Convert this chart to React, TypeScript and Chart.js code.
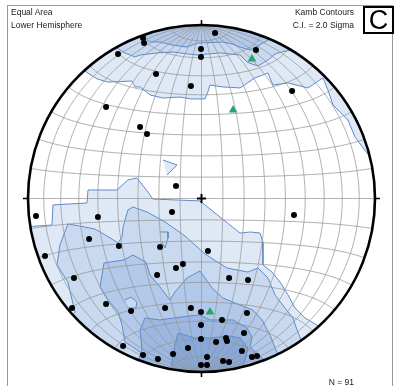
import React, { useEffect, useRef } from 'react';
import { Chart, registerables } from 'chart.js';

Chart.register(...registerables);

// ---- data (net coordinates, unit = primitive circle radius) ----
const poleDots: number[][] = [
  [-0.337, 0.925], [-0.331, 0.896], [-0.481, 0.833], [0.078, 0.954], [-0.003, 0.862],
  [-0.003, 0.816], [0.314, 0.856], [-0.262, 0.718], [-0.061, 0.648], [0.522, 0.62],
  [-0.55, 0.527], [-0.354, 0.412], [-0.314, 0.372], [-0.147, 0.072], [-0.954, -0.101],
  [-0.597, -0.107], [-0.17, -0.078], [0.533, -0.095], [-0.648, -0.233], [-0.476, -0.274],
  [-0.239, -0.28], [0.037, -0.303], [-0.902, -0.331], [-0.107, -0.378], [-0.147, -0.401],
  [-0.256, -0.441], [-0.735, -0.458], [0.159, -0.458], [0.268, -0.47], [-0.746, -0.631],
  [-0.55, -0.608], [-0.406, -0.648], [-0.21, -0.631], [-0.061, -0.631], [-0.003, -0.654],
  [0.262, -0.66], [0.118, -0.7], [-0.003, -0.729], [0.245, -0.775], [-0.003, -0.81],
  [0.141, -0.804], [0.147, -0.821], [0.084, -0.827], [-0.078, -0.862], [-0.452, -0.85],
  [-0.337, -0.902], [-0.251, -0.925], [-0.164, -0.896], [0.032, -0.914], [0.233, -0.879],
  [0.124, -0.937], [0.159, -0.942], [0.291, -0.914], [0.32, -0.908], [-0.003, -0.96],
  [0.032, -0.96],
];
const triangles: number[][] = [[0.291, 0.804], [0.182, 0.51], [0.049, -0.654]];

const topLevel1: number[][] = [
  [-0.7, 0.752], [-0.602, 0.689], [-0.539, 0.671], [-0.401, 0.677], [-0.383, 0.643],
  [-0.354, 0.643], [-0.297, 0.597], [-0.222, 0.579], [-0.124, 0.585], [-0.066, 0.574],
  [0.02, 0.574], [0.037, 0.614], [0.049, 0.654], [0.124, 0.643], [0.222, 0.637],
  [0.308, 0.695], [0.383, 0.723], [0.412, 0.654], [0.499, 0.666], [0.614, 0.637],
  [0.7, 0.695], [0.729, 0.625], [0.758, 0.539], [0.844, 0.452], [0.885, 0.354],
  [0.954, 0.262], [1.017, 0.193], [1.2, 0.2], [1.2, 1.2], [-1.2, 1.2], [-1.2, 0.75],
];
const topLevel2: number[][] = [
  [-0.585, 0.885], [-0.487, 0.867], [-0.441, 0.839], [-0.383, 0.816], [-0.354, 0.827],
  [-0.256, 0.839], [-0.164, 0.844], [-0.026, 0.827], [0.107, 0.839], [0.222, 0.827],
  [0.262, 0.787], [0.291, 0.775], [0.326, 0.764], [0.354, 0.781], [0.383, 0.798],
  [0.424, 0.833], [0.481, 0.85], [0.545, 0.856], [0.7, 1.2], [-1.2, 1.2], [-1.2, 0.885],
];
const topLevel3: number[][] = [
  [-0.366, 0.954], [-0.297, 0.902], [-0.239, 0.902], [-0.17, 0.885], [-0.084, 0.873],
  [-0.02, 0.896], [0.124, 0.902], [0.176, 0.891], [0.222, 0.873], [0.28, 0.856],
  [0.366, 0.902], [0.452, 0.96], [0.6, 1.2], [-0.5, 1.2],
];
const bottomLevel1: number[][] = [
  [-1.035, -0.164], [-0.862, -0.153], [-0.856, -0.037], [-0.66, -0.026], [-0.654, 0.049],
  [-0.487, 0.049], [-0.424, 0.107], [-0.372, 0.118], [-0.308, 0.037], [-0.28, -0.003],
  [-0.009, -0.014], [0.107, -0.107], [0.164, -0.153], [0.222, -0.199], [0.28, -0.193],
  [0.337, -0.199], [0.354, -0.251], [0.354, -0.383], [0.406, -0.424], [0.452, -0.481],
  [0.499, -0.556], [0.539, -0.631], [0.597, -0.689], [0.712, -0.758], [1.2, -1.2],
  [-1.2, -1.2], [-1.2, -0.164],
];
const islandLevel1: number[][] = [[-0.222, 0.222], [-0.141, 0.193], [-0.199, 0.135]];
const bottomLevel2: number[][] = [
  [-0.787, -0.746], [-0.729, -0.654], [-0.746, -0.585], [-0.77, -0.481], [-0.833, -0.383],
  [-0.816, -0.268], [-0.77, -0.147], [-0.7, -0.159], [-0.614, -0.176], [-0.545, -0.216],
  [-0.481, -0.256], [-0.458, -0.222], [-0.452, -0.164], [-0.424, -0.066], [-0.395, -0.049],
  [-0.314, -0.078], [-0.21, -0.135], [-0.095, -0.216], [0.02, -0.32], [0.147, -0.401],
  [0.268, -0.424], [0.326, -0.401], [0.383, -0.458], [0.424, -0.556], [0.481, -0.631],
  [0.527, -0.689], [0.551, -0.758], [0.597, -0.873], [1.2, -1.2], [-1.2, -1.2], [-1.2, -0.746],
];
const islandLevel2: number[][] = [
  [-0.239, -0.193], [-0.193, -0.193], [-0.193, -0.228], [-0.21, -0.285], [-0.228, -0.251],
];
const bottomLevel3: number[][] = [
  [-0.297, -0.988], [-0.354, -0.885], [-0.441, -0.827], [-0.458, -0.729], [-0.481, -0.654],
  [-0.539, -0.585], [-0.585, -0.51], [-0.562, -0.372], [-0.447, -0.354], [-0.395, -0.326],
  [-0.32, -0.366], [-0.297, -0.441], [-0.239, -0.51], [-0.182, -0.585], [-0.153, -0.539],
  [-0.084, -0.458], [-0.009, -0.418], [0.061, -0.516], [0.124, -0.574], [0.222, -0.614],
  [0.297, -0.643], [0.349, -0.7], [0.395, -0.787], [0.429, -0.873], [0.464, -0.942],
  [0.6, -1.2], [-0.4, -1.2],
];
const holeLevel2: number[][] = [
  [-0.441, -0.585], [-0.406, -0.568], [-0.372, -0.597], [-0.378, -0.631], [-0.424, -0.631],
];
const bottomLevel4: number[][] = [
  [-0.383, -0.977], [-0.343, -0.873], [-0.354, -0.758], [-0.326, -0.689], [-0.239, -0.7],
  [-0.164, -0.689], [-0.066, -0.677], [-0.009, -0.671], [0.049, -0.7], [0.182, -0.7],
  [0.262, -0.746], [0.291, -0.798], [0.28, -0.856], [0.349, -0.919], [0.383, -0.977],
  [0.5, -1.2], [-0.5, -1.2],
];
const bottomLevel5: number[][] = [
  [-0.182, -1.017], [-0.153, -0.844], [-0.135, -0.775], [-0.037, -0.804], [0.049, -0.804],
  [0.164, -0.793], [0.222, -0.804], [0.268, -0.862], [0.251, -0.931], [0.222, -1.017],
  [0.2, -1.2], [-0.2, -1.2],
];

const levelColors = ['#dfe9f6', '#c8d9f0', '#b2c9e9', '#9cb8e1', '#87a8d9'];
const contourLine = '#5f8acb';

const toPts = (a: number[][]) => a.map(([x, y]) => ({ x, y }));

const project = (lam: number, phi: number) => {
  const c = Math.cos(phi) * Math.cos(lam);
  const d = Math.sqrt(1 + c);
  return [(Math.cos(phi) * Math.sin(lam)) / d, Math.sin(phi) / d];
};

const geom = (chart: any) => {
  const { x, y } = chart.scales;
  const cx = x.getPixelForValue(0), cy = y.getPixelForValue(0);
  return { cx, cy, r: x.getPixelForValue(1) - cx };
};

const netPlugin = {
  id: 'net',
  beforeDatasetsDraw(chart: any) {
    const { cx, cy, r } = geom(chart);
    const ctx = chart.ctx;
    ctx.save();
    ctx.beginPath();
    ctx.arc(cx, cy, r, 0, Math.PI * 2);
    ctx.clip();
  },
  afterDatasetDraw(chart: any, args: any) {
    const ds = chart.data.datasets[args.index];
    if (!ds.gridAfter) return;
    const ctx = chart.ctx;
    const { x, y } = chart.scales;
    const px = (v: number) => x.getPixelForValue(v);
    const py = (v: number) => y.getPixelForValue(v);
    ctx.save();
    ctx.strokeStyle = 'rgba(150,150,150,0.75)';
    ctx.lineWidth = 1;
    const D = Math.PI / 180;
    for (let l = -80; l <= 80; l += 10) {
      ctx.beginPath();
      for (let p = -90; p <= 90; p += 1) {
        const [X, Y] = project(l * D, p * D);
        if (p === -90) ctx.moveTo(px(X), py(Y)); else ctx.lineTo(px(X), py(Y));
      }
      ctx.stroke();
    }
    for (let p = -80; p <= 80; p += 10) {
      ctx.beginPath();
      for (let l = -90; l <= 90; l += 2) {
        const [X, Y] = project(l * D, p * D);
        if (l === -90) ctx.moveTo(px(X), py(Y)); else ctx.lineTo(px(X), py(Y));
      }
      ctx.stroke();
    }
    ctx.restore();
  },
  afterDatasetsDraw(chart: any) {
    const ctx = chart.ctx;
    ctx.restore();
    const { cx, cy, r } = geom(chart);
    ctx.save();
    ctx.strokeStyle = '#000';
    ctx.lineWidth = 2.6;
    ctx.beginPath();
    ctx.arc(cx, cy, r, 0, Math.PI * 2);
    ctx.stroke();
    ctx.lineWidth = 1.6;
    ctx.beginPath();
    ctx.moveTo(cx, cy - r); ctx.lineTo(cx, cy - r - 5);
    ctx.moveTo(cx, cy + r); ctx.lineTo(cx, cy + r + 5);
    ctx.moveTo(cx - r, cy); ctx.lineTo(cx - r - 5, cy);
    ctx.moveTo(cx + r, cy); ctx.lineTo(cx + r + 5, cy);
    ctx.stroke();
    ctx.lineWidth = 2;
    ctx.beginPath();
    ctx.moveTo(cx - 4.5, cy); ctx.lineTo(cx + 4.5, cy);
    ctx.moveTo(cx, cy - 4.5); ctx.lineTo(cx, cy + 4.5);
    ctx.stroke();
    ctx.restore();
  },
};

const polygon = (data: number[][], color: string, order: number, extra: any = {}) => ({
  type: 'line' as const,
  data: toPts(data),
  backgroundColor: color,
  borderColor: contourLine,
  borderWidth: 1,
  fill: 'shape',
  pointRadius: 0,
  tension: 0,
  order,
  ...extra,
});

export default function App() {
  const ref = useRef<HTMLCanvasElement | null>(null);
  useEffect(() => {
    if (!ref.current) return;
    const chart = new Chart(ref.current, {
      type: 'scatter',
      data: {
        datasets: [
          {
            type: 'scatter',
            data: toPts(triangles),
            pointStyle: 'triangle',
            pointRadius: 5,
            backgroundColor: '#2aa46c',
            borderColor: '#2aa46c',
            borderWidth: 0,
            order: 0,
          } as any,
          {
            type: 'scatter',
            data: toPts(poleDots),
            pointRadius: 3,
            backgroundColor: '#000',
            borderWidth: 0,
            order: 1,
          } as any,
          polygon(topLevel1, levelColors[0], 120),
          polygon(topLevel2, levelColors[1], 119),
          polygon(topLevel3, levelColors[2], 118),
          polygon(bottomLevel1, levelColors[0], 117),
          polygon(islandLevel1, levelColors[0], 116),
          polygon(bottomLevel2, levelColors[1], 115),
          polygon(islandLevel2, levelColors[1], 114),
          polygon(bottomLevel3, levelColors[2], 113),
          polygon(holeLevel2, levelColors[1], 112),
          polygon(bottomLevel4, levelColors[3], 111),
          polygon(bottomLevel5, levelColors[4], 110, { gridAfter: true }),
        ] as any,
      },
      options: {
        responsive: false,
        animation: false,
        events: [],
        layout: { padding: { left: 28, right: 21, top: 25, bottom: 14 } },
        scales: {
          x: { type: 'linear', min: -1, max: 1, display: false },
          y: { type: 'linear', min: -1, max: 1, display: false },
        },
        plugins: { legend: { display: false }, tooltip: { enabled: false } },
      },
      plugins: [netPlugin],
    });
    return () => chart.destroy();
  }, []);

  const font = '"Liberation Sans", Arial, sans-serif';
  const small: React.CSSProperties = {
    position: 'absolute', fontFamily: font, fontSize: '8.5px', lineHeight: '10px',
    color: '#1a1a1a', whiteSpace: 'nowrap',
  };
  return (
    <div style={{ position: 'fixed', left: 0, top: 0, width: 396, height: 386, background: '#fff', overflow: 'hidden' }}>
      <div style={{ position: 'absolute', left: 7, top: 5, width: 386, height: 400, border: '1px solid #999', boxSizing: 'border-box' }} />
      <canvas ref={ref} width={396} height={386} style={{ position: 'absolute', left: 0, top: 0, width: 396, height: 386 }} />
      <div style={{ ...small, left: 11, top: 7 }}>Equal Area</div>
      <div style={{ ...small, left: 11, top: 20 }}>Lower Hemisphere</div>
      <div style={{ ...small, right: 42, top: 7, textAlign: 'right' }}>Kamb Contours</div>
      <div style={{ ...small, right: 42, top: 20, textAlign: 'right' }}>C.I. = 2.0 Sigma</div>
      <div style={{ ...small, right: 42, top: 377, textAlign: 'right' }}>N = 91</div>
      <div style={{
        position: 'absolute', left: 363, top: 6, width: 31, height: 28, boxSizing: 'border-box',
        border: '2px solid #000', background: '#fff', fontFamily: font, fontSize: '27px',
        lineHeight: '25px', textAlign: 'center', color: '#000',
      }}>C</div>
    </div>
  );
}
